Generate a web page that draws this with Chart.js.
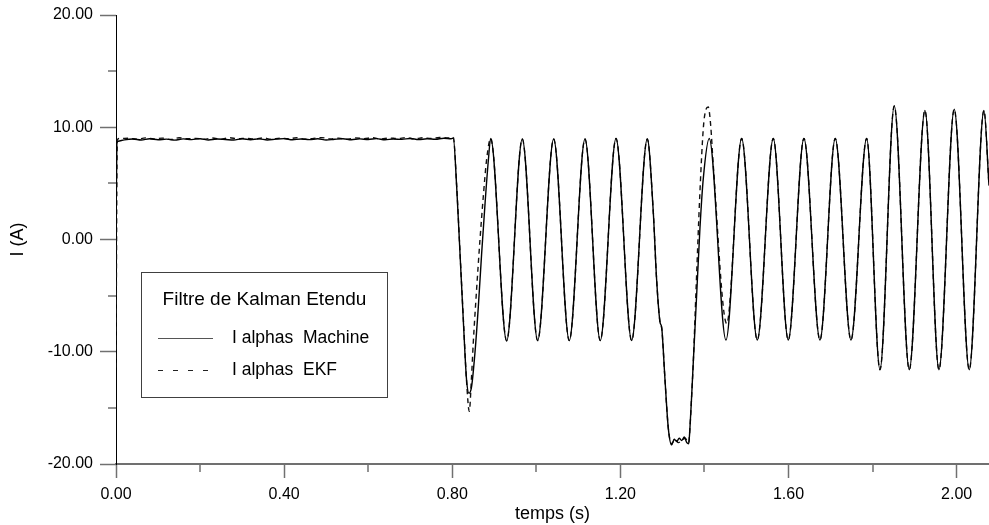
<!DOCTYPE html>
<html>
<head>
<meta charset="utf-8">
<script src="https://cdn.jsdelivr.net/npm/chart.js@4.4.1/dist/chart.umd.min.js"></script>
<style>
  html, body { margin: 0; padding: 0; background: #ffffff; }
  canvas { display: block; }
</style>
</head>
<body>
<canvas id="c" width="989" height="525"></canvas>
<script>
// ---------- DATA ----------
const legendTitle = 'Filtre de Kalman Etendu';
const seriesLabels = ['I alphas  Machine', 'I alphas  EKF'];
const xTitle = 'temps (s)';
const yTitle = 'I (A)';

// Machine current: time (s) and current (A)
const machineTime = [
  0, 0.002, 0.005,
  0.02, 0.04, 0.06, 0.08, 0.10, 0.12, 0.14, 0.16, 0.18, 0.20,
  0.22, 0.24, 0.26, 0.28, 0.30, 0.32, 0.34, 0.36, 0.38, 0.40,
  0.42, 0.44, 0.46, 0.48, 0.50, 0.52, 0.54, 0.56, 0.58, 0.60,
  0.62, 0.64, 0.66, 0.68, 0.70, 0.72, 0.74, 0.76, 0.78, 0.7975,
  0.8025, 0.8105, 0.8184, 0.8263, 0.834, 0.8398, 0.846, 0.854, 0.862, 0.870, 0.878, 0.886, 0.8914,
  0.9294, 0.9666, 1.0032, 1.0413, 1.0784, 1.1158, 1.1521, 1.1896, 1.2268, 1.2640,
  1.2782, 1.2861, 1.2940, 1.2975, 1.2990, 1.3060, 1.3140, 1.3220, 1.3280, 1.3340, 1.3400,
  1.3460, 1.3520, 1.3580, 1.3625, 1.3655, 1.3696, 1.3735, 1.3815, 1.3893, 1.3973, 1.4114,
  1.4512, 1.4885, 1.5257, 1.5637, 1.5994, 1.6367, 1.6748, 1.7112, 1.7486, 1.7859,
  1.8176, 1.8516, 1.8873, 1.9246, 1.9579, 1.9943, 2.0300, 2.0650, 2.0770
];
const machineCurrent = [
  0, 8.5, 8.75,
  8.88, 8.95, 8.86, 8.97, 8.89, 8.94, 8.85, 8.96, 8.90, 8.98,
  8.87, 8.95, 8.91, 8.86, 8.97, 8.89, 8.96, 8.87, 8.94, 8.99,
  8.88, 8.95, 8.90, 8.97, 8.86, 8.93, 8.98, 8.89, 8.96, 8.91,
  8.99, 8.88, 8.95, 8.92, 9.00, 8.90, 8.97, 8.93, 9.02, 8.98,
  9.04, 4.7, -1.2, -7.2, -12.5, -13.7, -13.1, -10.1, -6.0, -1.2, 3.2, 7.1, 9.0,
  -9.05, 8.95, -9.0, 8.95, -9.0, 8.95, -9.0, 9.0, -9.0, 8.95,
  2.5, -3.5, -7.3, -7.7, -8.1, -12.4, -16.8, -18.3, -17.8, -18.0, -17.7,
  -17.9, -17.6, -18.1, -18.2, -16.8, -13.9, -10.9, -4.9, 1.0, 5.45, 9.0,
  -8.95, 9.0, -8.95, 9.0, -8.95, 9.0, -8.95, 9.0, -8.95, 9.0,
  -11.6, 11.9, -11.6, 11.5, -11.6, 11.6, -11.6, 11.5, 4.8
];

// EKF estimate: time (s) and current (A)
const ekfTime = [
  0, 0.003, 0.01,
  0.03, 0.05, 0.07, 0.09, 0.11, 0.13, 0.15, 0.17, 0.19, 0.21,
  0.23, 0.25, 0.27, 0.29, 0.31, 0.33, 0.35, 0.37, 0.39, 0.41,
  0.43, 0.45, 0.47, 0.49, 0.51, 0.53, 0.55, 0.57, 0.59, 0.61,
  0.63, 0.65, 0.67, 0.69, 0.71, 0.73, 0.75, 0.77, 0.79,
  0.8025, 0.8105, 0.8184, 0.8263, 0.834, 0.8405, 0.8455, 0.850, 0.858, 0.866, 0.874, 0.882, 0.8914,
  0.9294, 0.9666, 1.0032, 1.0413, 1.0784, 1.1158, 1.1521, 1.1896, 1.2268, 1.2640,
  1.2782, 1.2861, 1.2940, 1.2975, 1.2990, 1.3060, 1.3140, 1.3220, 1.3300, 1.3380, 1.3460, 1.3540,
  1.3625, 1.3655, 1.3696, 1.3735, 1.3800, 1.3890, 1.3973, 1.4029, 1.4090, 1.4148, 1.4210,
  1.4530, 1.4885, 1.5257, 1.5637, 1.5994, 1.6367, 1.6748, 1.7112, 1.7486, 1.7859,
  1.8176, 1.8516, 1.8873, 1.9246, 1.9579, 1.9943, 2.0300, 2.0650, 2.0770
];
const ekfCurrent = [
  -11.4, 8.9, 9.0,
  9.02, 8.93, 9.05, 8.96, 9.03, 8.91, 9.06, 8.97, 9.01, 8.94,
  9.04, 8.92, 9.07, 8.98, 9.02, 8.95, 9.05, 8.93, 9.03, 8.97,
  9.06, 8.94, 9.01, 9.08, 8.96, 9.03, 8.92, 9.05, 8.98, 9.07,
  8.95, 9.04, 8.99, 9.08, 8.96, 9.06, 9.01, 9.09, 9.04,
  9.1, 4.8, -1.1, -7.0, -12.6, -15.3, -12.5, -9.2, -4.4, 0.0, 3.9, 7.2, 9.0,
  -9.0, 8.95, -9.0, 8.95, -9.0, 8.95, -9.0, 9.0, -9.0, 8.95,
  2.5, -3.5, -7.3, -7.7, -8.1, -12.4, -16.8, -18.2, -17.8, -18.1, -17.9, -17.7,
  -18.1, -16.8, -13.9, -10.9, -4.5, 4.0, 9.9, 11.5, 11.8, 10.2, 6.6,
  -7.5, 9.0, -8.95, 9.0, -8.95, 9.0, -8.95, 9.0, -8.95, 9.0,
  -11.6, 11.9, -11.6, 11.5, -11.6, 11.6, -11.6, 11.5, 4.8
];

// Axis ranges and ticks
const xMin = 0, xMax = 2.077, xStep = 0.4;
const yMin = -20, yMax = 20, yStep = 10;
const xMinorTicks = [0.2, 0.6, 1.0, 1.4, 1.8];
const yMinorTicks = [-15, -5, 5, 15];

if (machineTime.length !== machineCurrent.length || ekfTime.length !== ekfCurrent.length) {
  console.error('length mismatch', machineTime.length, machineCurrent.length, ekfTime.length, ekfCurrent.length);
}

// ---------- CHART ----------
const FONT = '"Liberation Sans", Arial, Helvetica, sans-serif';
const toPoints = (ts, vs) => ts.map((t, i) => ({ x: t, y: vs[i] }));

const minorTicksPlugin = {
  id: 'minorTicks',
  afterDraw(chart) {
    const ctx = chart.ctx;
    const xs = chart.scales.x, ys = chart.scales.y;
    ctx.save();
    ctx.strokeStyle = '#707070';
    ctx.lineWidth = 1.5;
    ctx.beginPath();
    xMinorTicks.forEach(v => {
      const px = Math.round(xs.getPixelForValue(v));
      ctx.moveTo(px, ys.bottom);
      ctx.lineTo(px, ys.bottom + 8);
    });
    yMinorTicks.forEach(v => {
      const py = Math.round(ys.getPixelForValue(v));
      ctx.moveTo(xs.left - 8, py);
      ctx.lineTo(xs.left, py);
    });
    ctx.stroke();
    ctx.restore();
  }
};

const boxLegendPlugin = {
  id: 'boxLegend',
  afterDraw(chart) {
    const ctx = chart.ctx;
    ctx.save();
    ctx.strokeStyle = '#404040';
    ctx.lineWidth = 1;
    ctx.strokeRect(141.5, 272.5, 246, 125);
    ctx.fillStyle = '#000';
    ctx.font = '19px ' + FONT;
    ctx.textBaseline = 'middle';
    ctx.textAlign = 'center';
    ctx.fillText(legendTitle, 264.5, 300);
    ctx.textAlign = 'left';
    ctx.font = '17.5px ' + FONT;
    const dashes = [[], [5, 10]];
    chart.data.datasets.forEach((ds, i) => {
      const y = 338 + i * 32;
      ctx.beginPath();
      ctx.setLineDash(dashes[i]);
      ctx.strokeStyle = i === 0 ? '#555' : '#222';
      ctx.lineWidth = 1.2;
      ctx.moveTo(158, y + 0.5);
      ctx.lineTo(i === 0 ? 213 : 211, y + 0.5);
      ctx.stroke();
      ctx.setLineDash([]);
      ctx.fillStyle = '#000';
      ctx.fillText(ds.label, 232, y);
    });
    ctx.restore();
  }
};

new Chart(document.getElementById('c'), {
  type: 'line',
  data: {
    datasets: [
      {
        label: seriesLabels[0],
        data: toPoints(machineTime, machineCurrent),
        borderColor: '#000',
        borderWidth: 1.4,
        pointRadius: 0,
        fill: false,
        cubicInterpolationMode: 'monotone'
      },
      {
        label: seriesLabels[1],
        data: toPoints(ekfTime, ekfCurrent),
        borderColor: '#111',
        borderWidth: 1.4,
        borderDash: [5, 4],
        pointRadius: 0,
        fill: false,
        cubicInterpolationMode: 'monotone'
      }
    ]
  },
  options: {
    responsive: false,
    devicePixelRatio: 1,
    animation: false,
    parsing: false,
    layout: { padding: { top: 15, right: 0, bottom: 0, left: 0 } },
    plugins: {
      legend: { display: false },
      tooltip: { enabled: false }
    },
    scales: {
      x: {
        type: 'linear',
        min: xMin,
        max: xMax,
        afterFit(scale) {
          scale.height = 61;
          scale.paddingLeft = 0;
          scale.paddingRight = 0;
        },
        ticks: {
          stepSize: xStep,
          includeBounds: false,
          autoSkip: false,
          maxRotation: 0,
          padding: 7,
          color: '#000',
          font: { family: FONT, size: 16 },
          callback: v => Number(v).toFixed(2)
        },
        grid: {
          drawOnChartArea: false,
          drawTicks: true,
          tickLength: 14,
          tickColor: '#707070',
          tickWidth: 1.5
        },
        border: { display: true, color: '#707070', width: 2 },
        title: {
          display: true,
          text: xTitle,
          color: '#000',
          font: { family: FONT, size: 18 },
          padding: { top: 0, bottom: 0 }
        }
      },
      y: {
        type: 'linear',
        min: yMin,
        max: yMax,
        afterFit(scale) {
          scale.width = 116;
          scale.paddingTop = 0;
          scale.paddingBottom = 0;
        },
        ticks: {
          stepSize: yStep,
          includeBounds: false,
          autoSkip: false,
          padding: 7,
          color: '#000',
          font: { family: FONT, size: 16 },
          callback: v => Number(v).toFixed(2)
        },
        grid: {
          drawOnChartArea: false,
          drawTicks: true,
          tickLength: 16,
          tickColor: '#707070',
          tickWidth: 1.5
        },
        border: { display: true, color: '#000', width: 1 },
        title: {
          display: true,
          text: yTitle,
          color: '#000',
          font: { family: FONT, size: 18 },
          padding: { top: 7, bottom: 0 }
        }
      }
    }
  },
  plugins: [minorTicksPlugin, boxLegendPlugin]
});
</script>
</body>
</html>
